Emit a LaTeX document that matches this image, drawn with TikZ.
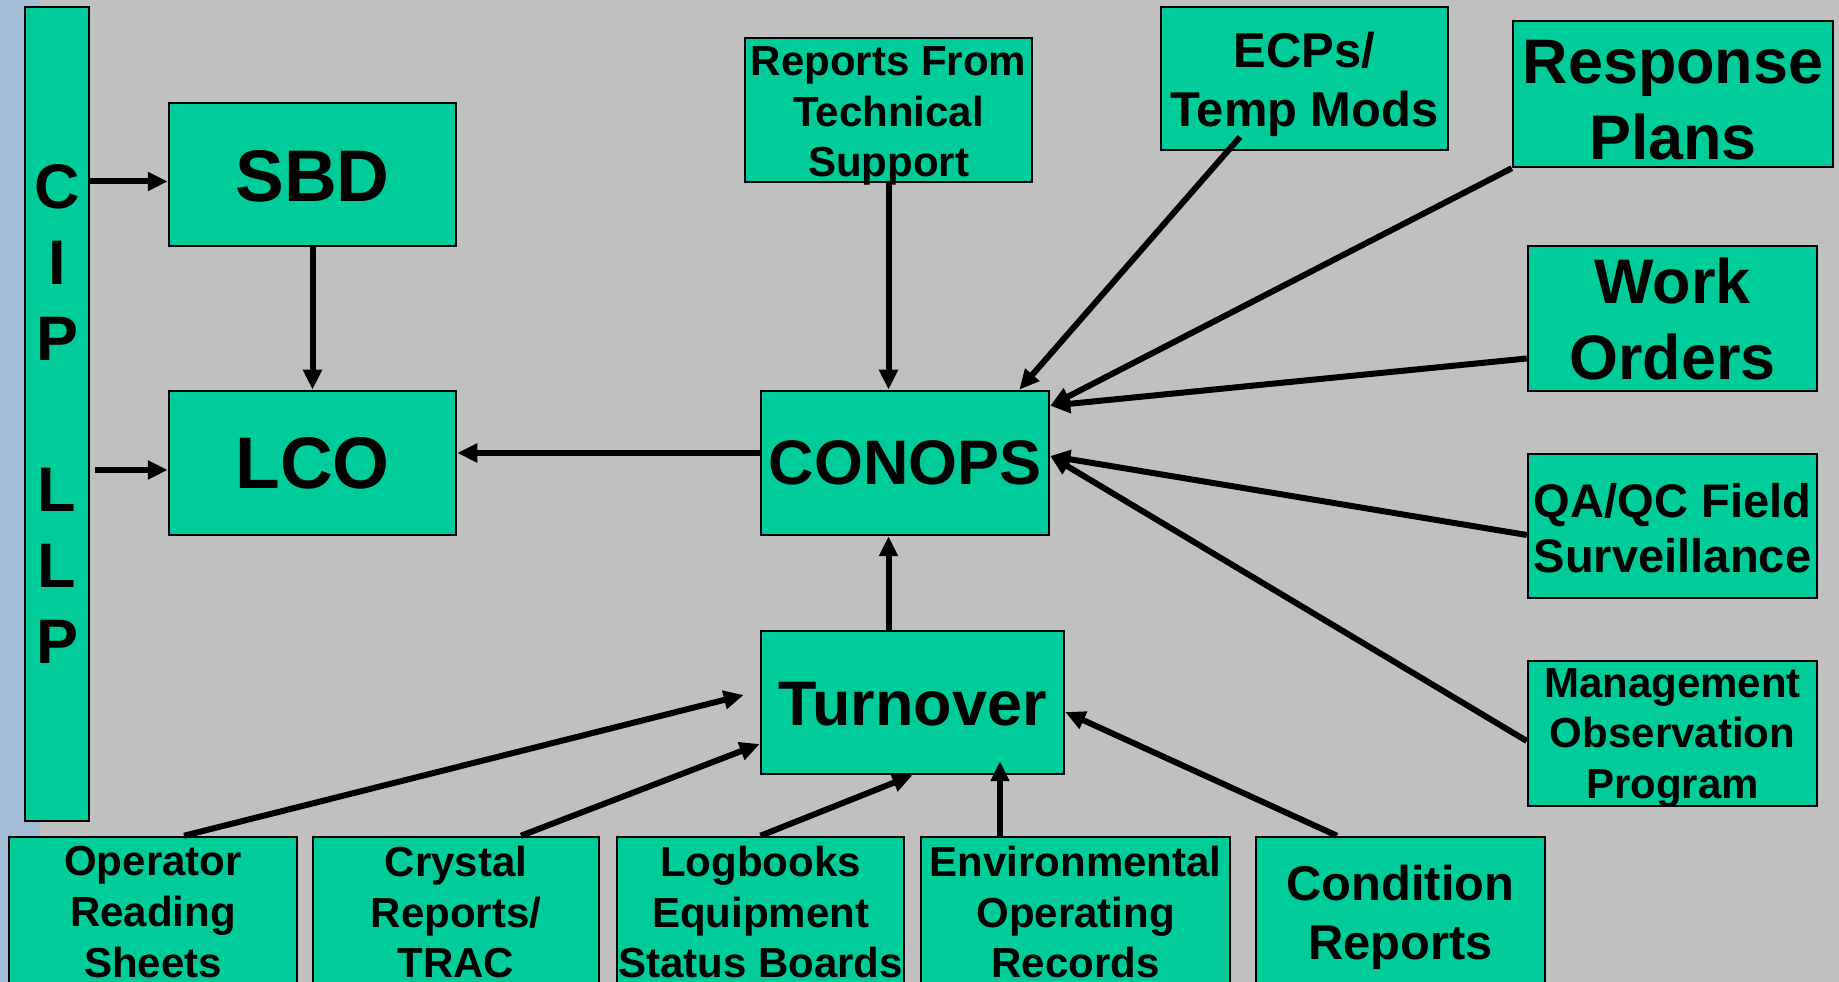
\documentclass[tikz,border=0pt]{standalone}
\usepackage{fontspec}
\setmainfont{Liberation Sans}
\usetikzlibrary{arrows.meta}
\definecolor{bggray}{HTML}{C0C0C0}
\definecolor{boxgreen}{HTML}{00CC99}
\definecolor{stripblue}{HTML}{A6BDD7}
\newcommand\dn[1]{\rule{0pt}{\dimexpr\fontcharht\font`\R+#1*2\relax}}

\begin{document}
\begin{tikzpicture}[
  box/.style={draw, fill=boxgreen, line width=0.025cm, inner sep=0pt, align=center},
  tb/.style={text height=#1, text depth=0pt},
  fsmall/.style={font=\bfseries\fontsize{11.95pt}{14.4pt}\selectfont},
  fqa/.style={font=\bfseries\fontsize{13.4pt}{15.9pt}\selectfont},
  fmid/.style={font=\bfseries\fontsize{13.9pt}{16.8pt}\selectfont},
  fbig/.style={font=\bfseries\fontsize{17.9pt}{21.6pt}\selectfont},
  fhuge/.style={font=\bfseries\fontsize{20.8pt}{25pt}\selectfont},
  arr/.style={-{Triangle[length=0.2cm, width=0.18cm]}, line width=0.06cm}
]
\path[use as bounding box, fill=bggray] (0,0) rectangle (18.39,9.82);
\fill[stripblue] (0,0) rectangle (0.40,9.82);

\node[box, fbig, minimum width=0.64cm, minimum height=8.14cm] (cip) at (0.57,5.68) {C\\I\\P\\[21.6pt]L\\L\\P};
\node[box, fhuge, minimum width=2.87cm, minimum height=1.43cm] (sbd) at (3.125,8.075) {\dn{0.02cm}SBD};
\node[box, fhuge, minimum width=2.87cm, minimum height=1.44cm] (lco) at (3.125,5.19) {LCO};
\node[box, fbig, minimum width=2.88cm, minimum height=1.44cm] (conops) at (9.05,5.19) {CONOPS};
\node[box, fsmall, tb=1.34cm, minimum width=2.87cm, minimum height=1.44cm] (reports) at (8.885,8.72) {Reports From\\Technical\\Support};
\node[box, fmid, minimum width=2.87cm, minimum height=1.43cm] (ecp) at (13.045,9.035) {\dn{0.07cm}ECPs/\\Temp Mods};
\node[box, fbig, minimum width=3.20cm, minimum height=1.46cm] (resp) at (16.73,8.88) {\dn{0.06cm}Response\\Plans};
\node[box, fbig, minimum width=2.89cm, minimum height=1.45cm] (work) at (16.725,6.635) {\dn{0.02cm}Work\\Orders};
\node[box, fqa, minimum width=2.89cm, minimum height=1.44cm] (qa) at (16.725,4.56) {\dn{0.03cm}QA/QC Field\\Surveillance};
\node[box, fsmall, tb=1.30cm, minimum width=2.89cm, minimum height=1.45cm] (mgmt) at (16.725,2.485) {Management\\Observation\\Program};
\node[box, fbig, minimum width=3.03cm, minimum height=1.43cm] (turn) at (9.125,2.795) {\dn{0.02cm}Turnover};
\node[box, fsmall, minimum width=2.88cm, minimum height=1.50cm] (oper) at (1.53,0.70) {Operator\\Reading\\Sheets};
\node[box, fsmall, minimum width=2.86cm, minimum height=1.50cm] (crys) at (4.56,0.70) {Crystal\\Reports/\\TRAC};
\node[box, fsmall, minimum width=2.87cm, minimum height=1.50cm] (logb) at (7.605,0.70) {Logbooks\\Equipment\\Status Boards};
\node[box, fsmall, minimum width=3.09cm, minimum height=1.50cm] (env) at (10.755,0.70) {Environmental\\Operating\\Records};
\node[box, fmid, minimum width=2.89cm, minimum height=1.50cm] (cond) at (14.005,0.70) {\dn{0.06cm}Condition\\Reports};

\draw[arr] ([yshift=-0.07cm]cip.east |- sbd.west) -- ([yshift=-0.07cm]sbd.west);
\draw[arr] ([xshift=0.05cm, yshift=-0.07cm]cip.east |- lco.west) -- ([yshift=-0.07cm]lco.west);
\draw[arr] (sbd) -- (lco);
\draw[arr] ([yshift=0.1cm]conops.west) -- ([yshift=0.1cm]lco.east);
\draw[arr] (reports.south) -- (reports.south |- conops.north);
\draw[arr] ([xshift=-0.645cm, yshift=-0.585cm]ecp.center) -- ([xshift=-0.31cm]conops.north east);
\draw[arr] (resp.south west) -- ([yshift=-0.16cm]conops.north east);
\draw[arr] ([yshift=-0.4cm]work.west) -- ([yshift=-0.16cm]conops.north east);
\draw[arr] ([yshift=-0.09cm]qa.west) -- ([yshift=0.07cm]conops.east);
\draw[arr] ([yshift=-0.075cm]mgmt.west) -- ([yshift=0.07cm]conops.east);
\draw[arr] (reports.south |- turn.north) -- (reports.south |- conops.south);
\draw[arr] ([xshift=0.31cm]oper.north) -- ([xshift=-0.16cm, yshift=0.075cm]turn.west);
\draw[arr] ([xshift=0.65cm]crys.north) -- ([yshift=-0.415cm]turn.west);
\draw[arr] (logb.north) -- (turn.south);
\draw[arr] ([xshift=-0.755cm]env.north) -- ([xshift=0.875cm, yshift=0.14cm]turn.south);
\draw[arr] ([xshift=-0.635cm]cond.north) -- ([yshift=-0.095cm]turn.east);
\end{tikzpicture}
\end{document}
